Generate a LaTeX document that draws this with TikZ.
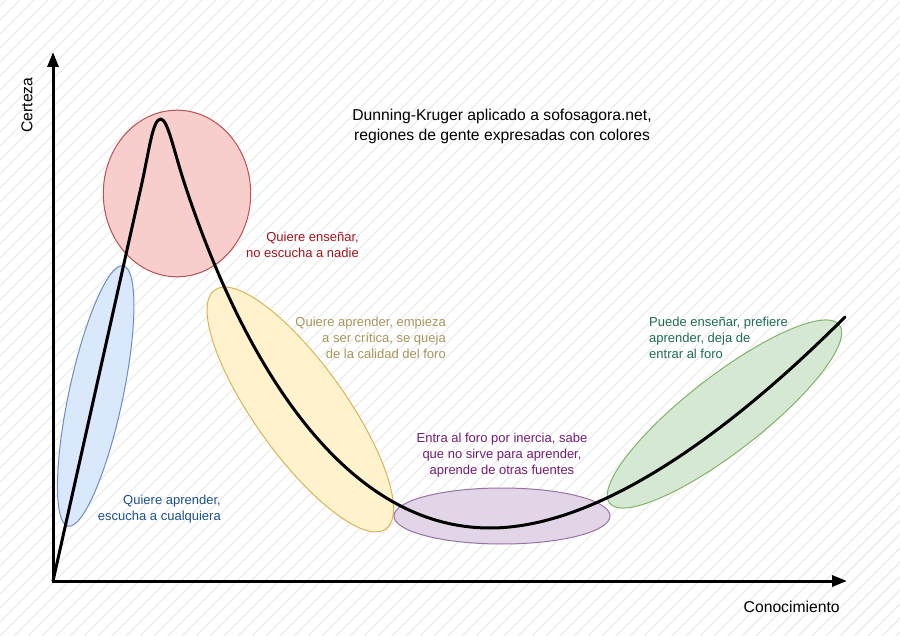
\documentclass[tikz,border=0pt]{standalone}
\usepackage{fontspec}
\setmainfont{Liberation Sans}
\usetikzlibrary{arrows.meta}
\definecolor{redfill}{HTML}{F8CECC}\definecolor{redline}{HTML}{B85450}
\definecolor{bluefill}{HTML}{DAE8FC}\definecolor{blueline}{HTML}{6C8EBF}
\definecolor{yelfill}{HTML}{FFF2CC}\definecolor{yelline}{HTML}{D6B656}
\definecolor{purfill}{HTML}{E1D5E7}\definecolor{purline}{HTML}{9673A6}
\definecolor{grnfill}{HTML}{D5E8D4}\definecolor{grnline}{HTML}{82B366}
\definecolor{redtxt}{RGB}{160,22,30}
\definecolor{yeltxt}{RGB}{168,150,92}
\definecolor{purtxt}{RGB}{115,30,115}
\definecolor{grntxt}{RGB}{30,110,80}
\definecolor{bluetxt}{RGB}{30,80,140}
\definecolor{stripecol}{RGB}{236,236,236}
\tikzset{
  stripe/.style={draw=stripecol, line width=1.4pt},
  region/.style={line width=1pt},
  redE/.style={region, fill=redfill, draw=redline},
  blueE/.style={region, fill=bluefill, draw=blueline},
  yelE/.style={region, fill=yelfill, draw=yelline},
  purE/.style={region, fill=purfill, draw=purline},
  grnE/.style={region, fill=grnfill, draw=grnline},
  axisline/.style={line width=3pt, {Triangle[length=15pt,width=11pt]}-{Triangle[length=15pt,width=11pt]}},
  curveline/.style={line width=3pt, line cap=round, line join=round},
  lbl/.style={inner sep=0pt, font=\fontsize{13}{16.3}\selectfont},
  bigtxt/.style={inner sep=0pt, font=\fontsize{15.7}{20.5}\selectfont},
}
\begin{document}
\begin{tikzpicture}[x=1pt,y=-1pt]
\useasboundingbox (0,0) rectangle (900,636);
\fill[white] (0,0) rectangle (900,636);
\begin{scope}
\clip (0,0) rectangle (900,636);
\foreach \c in {-644,-630,...,900} \draw[stripe] (\c,636) -- ({\c+636},0);
\end{scope}
% regions
\draw[redE] (177,193.5) ellipse [x radius=73.7, y radius=83.3];
\draw[blueE, rotate around={78:(95.7,396)}] (95.7,396) ellipse [x radius=133, y radius=27];
\draw[yelE, rotate around={-54.4:(300.3,409.5)}] (300.3,409.5) ellipse [x radius=147, y radius=45.5];
\draw[purE] (502,516) ellipse [x radius=108, y radius=28];
\draw[grnE, rotate around={37.8:(724.5,414)}] (724.5,414) ellipse [x radius=145.4, y radius=37.9];
% axes
\coordinate (O) at (53,581);
\coordinate (ytip) at (53,52);
\coordinate (xtip) at (847,581);
\coordinate (cend) at (845,317);
\draw[axisline] (ytip) -- (O) -- (xtip);
% curve
\draw[curveline] (O) -- (141.5,185) .. controls (149.3,150) and (152.7,119) .. (160.7,119)
  .. controls (167.7,119) and (173.5,150) .. (185,185)
  .. controls (241.1,355) and (340,528) .. (490,528)
  .. controls (590,528) and (715,447) .. (cend);
% texts
\node[bigtxt, align=center] (title) at (502,126.5) {Dunning-Kruger aplicado a sofosagora.net,\\regiones de gente expresadas con colores};
\node[bigtxt, rotate=90] (ylab) at (27,105) {Certeza};
\node[bigtxt, anchor=base] (xlab) at (791.7,612.7) {Conocimiento};
\node[lbl, text=redtxt, align=right, anchor=east] (tred) at (359,245) {Quiere enseñar,\\no escucha a nadie};
\node[lbl, text=yeltxt, align=right, anchor=east] (tyel) at (446,338) {Quiere aprender, empieza\\a ser crítica, se queja\\de la calidad del foro};
\node[lbl, text=purtxt, align=center] (tpur) at (502,455) {Entra al foro por inercia, sabe\\que no sirve para aprender,\\aprende de otras fuentes};
\node[lbl, text=grntxt, align=left, anchor=west] (tgrn) at (649,338) {Puede enseñar, prefiere\\aprender, deja de\\entrar al foro};
\node[lbl, text=bluetxt, align=right, anchor=east] (tblue) at (221,509) {Quiere aprender,\\escucha a cualquiera};
\end{tikzpicture}
\end{document}
